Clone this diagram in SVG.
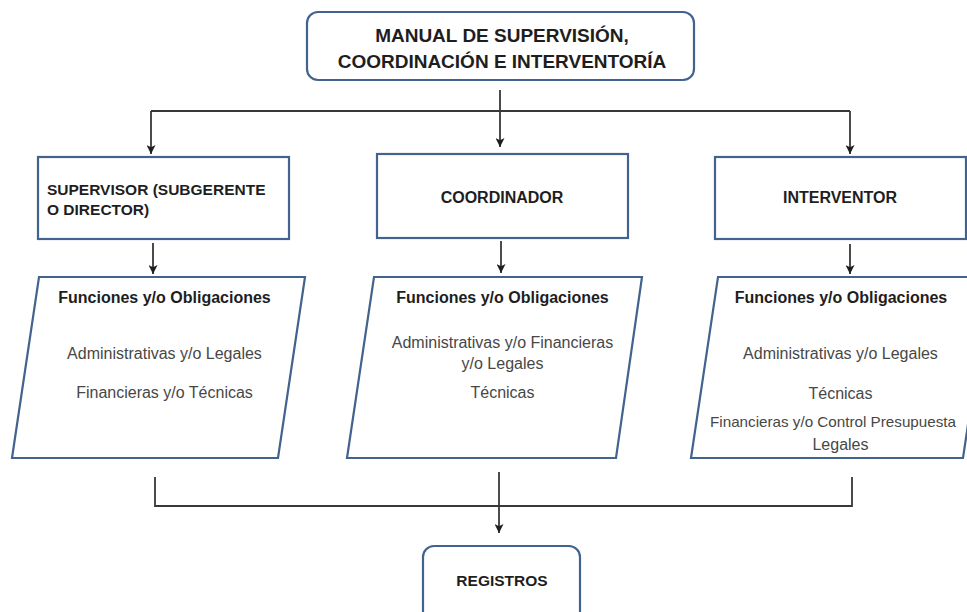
<svg xmlns="http://www.w3.org/2000/svg" width="967" height="612" viewBox="0 0 967 612">
<style>
.box{fill:#fff;stroke:#41638e;stroke-width:2.2}
.ln{fill:none;stroke:#383838;stroke-width:1.8}
.t{font-family:"Liberation Sans",Arial,sans-serif}
.h{font-weight:bold;fill:#1e1e1e;font-size:16px}
.r{fill:#474747;font-size:16px}
.c{text-anchor:middle}
</style>
<defs>
<marker id="arr" viewBox="0 0 10 10" refX="10" refY="5" markerWidth="9" markerHeight="9" markerUnits="userSpaceOnUse" orient="auto">
<path d="M0,0 L10,5 L0,10 L2.5,5 Z" fill="#1e1e1e"/>
</marker>
</defs>
<rect width="967" height="612" fill="#fff"/>
<g id="connectors">
<path class="ln" d="M500,90 V111 M151,111 H850"/>
<path class="ln" d="M151,111 V154" marker-end="url(#arr)"/>
<path class="ln" d="M500,111 V147" marker-end="url(#arr)"/>
<path class="ln" d="M850,111 V154" marker-end="url(#arr)"/>
<path class="ln" d="M153,243 V274" marker-end="url(#arr)"/>
<path class="ln" d="M501,241 V273" marker-end="url(#arr)"/>
<path class="ln" d="M850,244 V274" marker-end="url(#arr)"/>
<path class="ln" d="M155,477 V506 H852 V477"/>
<path class="ln" d="M499,472 V533" marker-end="url(#arr)"/>
</g>
<g id="manual">
<rect class="box" x="307" y="12" width="387" height="68" rx="11"/>
<text class="t h c" x="502" y="42" style="font-size:19px">MANUAL DE SUPERVISIÓN,</text>
<text class="t h c" x="502" y="68" style="font-size:19px">COORDINACIÓN E INTERVENTORÍA</text>
</g>
<g id="supervisor">
<rect class="box" x="38" y="157" width="251" height="82"/>
<text class="t h" x="47" y="195" style="font-size:15.5px">SUPERVISOR (SUBGERENTE</text>
<text class="t h" x="47" y="215" style="font-size:15.5px">O DIRECTOR)</text>
</g>
<g id="coordinador">
<rect class="box" x="377" y="154" width="251" height="84"/>
<text class="t h c" x="502" y="203">COORDINADOR</text>
</g>
<g id="interventor">
<rect class="box" x="715" y="157" width="251" height="82"/>
<text class="t h c" x="840" y="203">INTERVENTOR</text>
</g>
<g id="funciones-supervisor">
<polygon class="box" points="39,277 305,277 278,458 12,458"/>
<text class="t h c" x="164.5" y="303">Funciones y/o Obligaciones</text>
<text class="t r c" x="164.5" y="359">Administrativas y/o Legales</text>
<text class="t r c" x="164.5" y="398">Financieras y/o Técnicas</text>
</g>
<g id="funciones-coordinador">
<polygon class="box" points="374,277 642,277 616,458 347,458"/>
<text class="t h c" x="502.5" y="303">Funciones y/o Obligaciones</text>
<text class="t r c" x="502.5" y="348">Administrativas y/o Financieras</text>
<text class="t r c" x="502.5" y="369">y/o Legales</text>
<text class="t r c" x="502.5" y="398">Técnicas</text>
</g>
<g id="funciones-interventor">
<polygon class="box" points="718,277 990,277 963,458 691,458"/>
<text class="t h c" x="841" y="303">Funciones y/o Obligaciones</text>
<text class="t r c" x="840.5" y="359">Administrativas y/o Legales</text>
<text class="t r c" x="840.5" y="399">Técnicas</text>
<text class="t r" x="710" y="427" style="font-size:15px" textLength="246" lengthAdjust="spacingAndGlyphs">Financieras y/o Control Presupuesta</text>
<text class="t r c" x="840.5" y="450">Legales</text>
</g>
<g id="registros">
<rect class="box" x="423" y="546" width="157" height="80" rx="11"/>
<text class="t h c" x="502" y="586" style="font-size:15.5px">REGISTROS</text>
</g>
</svg>
